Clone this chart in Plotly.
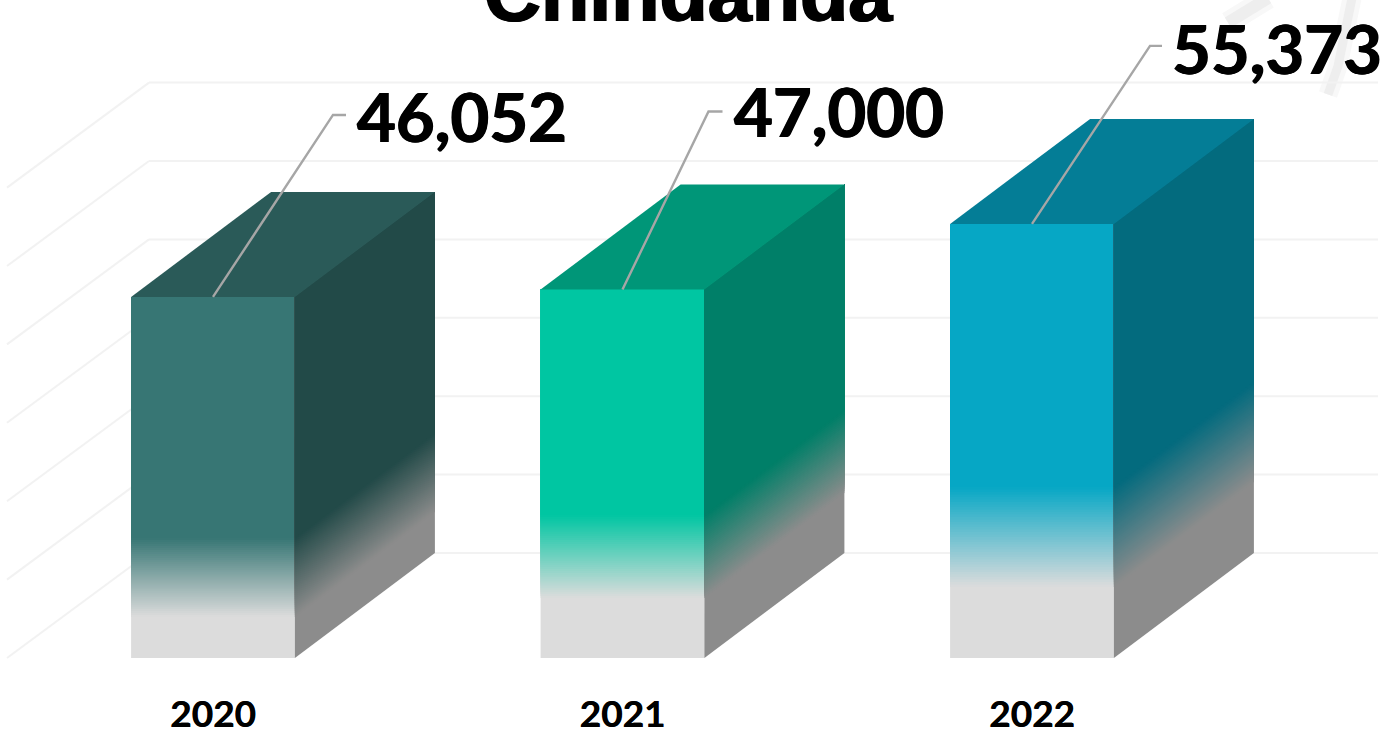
import plotly.graph_objects as go

title_text = "Chindanda"
years = ["2020", "2021", "2022"]
values = [46052, 47000, 55373]
value_labels = ["46,052", "47,000", "55,373"]
grid_values = [0, 10000, 20000, 30000, 40000, 50000, 60000]

# where the grey base stops and the solid colour starts, in value units
fade_start = [5230, 7650, 9060]
fade_end = [15300, 18240, 21810]

front_colors = ["#377674", "#00c6a2", "#06a7c5"]
side_colors = ["#224a48", "#007f68", "#036b7e"]
top_colors = ["#2a5a58", "#009678", "#047d96"]
FRONT_GREY = "#dcdcdc"
SIDE_GREY = "#8c8c8c"
GRID = "#f2f2f2"
LEADER = "#a6a6a6"

W, H = 1383, 729
PLOT_BOTTOM = 689
X0_PX, STEP_PX = 213, 409.5     # first category centre, category spacing
Y0_PX, PX_PER_UNIT = 658, 0.00784  # zero line of front plane, vertical scale
BAR_W = 0.4
DEPTH_X = 140 / STEP_PX
DEPTH_Y = 105 / PX_PER_UNIT
BANDS = 40

# leader elbow relative to bar top centre (px), then short horizontal run, then label start
leader_dx = [120, 86, 118]
leader_dy = [182, 178, 178]
leader_run = [13, 14, 12]
label_gap = [9, 9, 8]
label_lift = [-1, 1, -2]


def mix(a, b, t):
    ca = [int(a[i:i + 2], 16) for i in (1, 3, 5)]
    cb = [int(b[i:i + 2], 16) for i in (1, 3, 5)]
    return "#%02x%02x%02x" % tuple(round(p + (q - p) * t) for p, q in zip(ca, cb))


def poly(xs, ys, color):
    return go.Scatter(x=xs, y=ys, mode="lines", fill="toself", fillcolor=color,
                      line=dict(color=color, width=0), hoverinfo="skip", showlegend=False)


def side_band(i, lo, hi, color):
    xr = i + BAR_W / 2
    return poly([xr, xr + DEPTH_X, xr + DEPTH_X, xr, xr],
                [lo, lo + DEPTH_Y, hi + DEPTH_Y, hi, lo], color)


fig = go.Figure()
xs = list(range(len(years)))

# front faces: each band runs up to the bar top and is painted over by the next, so no seams
fig.add_trace(go.Bar(x=xs, y=values, base=[0, 0, 0], width=BAR_W, marker=dict(color=FRONT_GREY, line_width=0),
                     hoverinfo="skip", showlegend=False))
for b in range(BANDS):
    lo = [s + (e - s) * b / BANDS for s, e in zip(fade_start, fade_end)]
    cols = [mix(FRONT_GREY, c, (b + 0.5) / BANDS) for c in front_colors]
    fig.add_trace(go.Bar(x=xs, y=[v - l for v, l in zip(values, lo)], base=lo, width=BAR_W,
                         marker=dict(color=cols, line_width=0), hoverinfo="skip", showlegend=False))
fig.add_trace(go.Bar(x=xs, y=[v - e for v, e in zip(values, fade_end)], base=fade_end, width=BAR_W,
                     marker=dict(color=front_colors, line_width=0), hoverinfo="skip", showlegend=False))

# side and top faces
for i, v in enumerate(values):
    s, e = fade_start[i], fade_end[i]
    fig.add_trace(side_band(i, 0, v, SIDE_GREY))
    for b in range(BANDS):
        lo = s + (e - s) * b / BANDS
        fig.add_trace(side_band(i, lo, v, mix(SIDE_GREY, side_colors[i], (b + 0.5) / BANDS)))
    fig.add_trace(side_band(i, e, v, side_colors[i]))
    xl, xr = i - BAR_W / 2, i + BAR_W / 2
    fig.add_trace(poly([xl, xr, xr + DEPTH_X, xl + DEPTH_X, xl],
                       [v, v, v + DEPTH_Y, v + DEPTH_Y, v], top_colors[i]))

# leader lines and value labels
annotations = []
for i, v in enumerate(values):
    ex = i + leader_dx[i] / STEP_PX
    ey = v + leader_dy[i] / PX_PER_UNIT
    ex2 = ex + leader_run[i] / STEP_PX
    fig.add_trace(go.Scatter(x=[i, ex, ex2], y=[v, ey, ey], mode="lines", line=dict(color=LEADER, width=2.4),
                             hoverinfo="skip", showlegend=False))
    annotations.append(dict(x=ex2 + label_gap[i] / STEP_PX, y=ey, text=value_labels[i], showarrow=False,
                            xanchor="left", yanchor="middle", yshift=label_lift[i],
                            font=dict(family="Lato", size=67, color="#000000", weight=700,
                                      shadow="0.7px 0 #000, -0.7px 0 #000")))

annotations.append(dict(xref="paper", yref="paper", x=688 / W, y=1, yanchor="bottom", xanchor="center",
                        yshift=-40, text=title_text, showarrow=False,
                        font=dict(family="Liberation Sans", size=79, color="#000000", weight=700,
                                  shadow="1px 0 #000, -1px 0 #000")))

# grid: back wall and left wall, below the bars
back_left = (149 - X0_PX) / STEP_PX
right_end = (1378 - X0_PX) / STEP_PX
wall_left = back_left - 142 / STEP_PX
shapes = []
for g in grid_values:
    shapes.append(dict(type="line", layer="below", x0=back_left, x1=right_end, y0=g + DEPTH_Y, y1=g + DEPTH_Y,
                       line=dict(color=GRID, width=2)))
    shapes.append(dict(type="line", layer="below", x0=wall_left, x1=back_left, y0=g, y1=g + DEPTH_Y,
                       line=dict(color=GRID, width=2)))

# faint smudge in the top right corner of the source picture
for smudge_color, smudge_w in [("#f8f8f8", 22), ("#eeeeee", 12)]:
    shapes.append(dict(type="line", layer="below", xref="paper", yref="paper",
                       x0=1228 / W, x1=1268 / W, y0=1 - 24 / H, y1=1 + 2 / H,
                       line=dict(color=smudge_color, width=smudge_w)))
    shapes.append(dict(type="path", layer="below", xref="paper", yref="paper",
                       path=f"M {1328 / W} {1 - 100 / H} L {1338 / W} {1 - 70 / H} L {1352 / W} {1 + 2 / H}",
                       line=dict(color=smudge_color, width=smudge_w - 3)))

fig.update_layout(
    width=W, height=H, margin=dict(l=0, r=0, t=0, b=H - PLOT_BOTTOM), paper_bgcolor="#ffffff", plot_bgcolor="#ffffff",
    barmode="overlay", showlegend=False, shapes=shapes, annotations=annotations,
    xaxis=dict(range=[-X0_PX / STEP_PX, (W - X0_PX) / STEP_PX], tickmode="array", tickvals=xs, ticktext=years,
               showgrid=False, zeroline=False, showline=False, ticks="", automargin=False,
               tickfont=dict(family="Lato", size=37, color="#000000", weight=700, shadow="0.4px 0 #000")),
    yaxis=dict(range=[-(PLOT_BOTTOM - Y0_PX) / PX_PER_UNIT, Y0_PX / PX_PER_UNIT], visible=False),
)

fig.write_html("out.html", post_script="document.body.style.margin='0';", config=dict(displayModeBar=False))
